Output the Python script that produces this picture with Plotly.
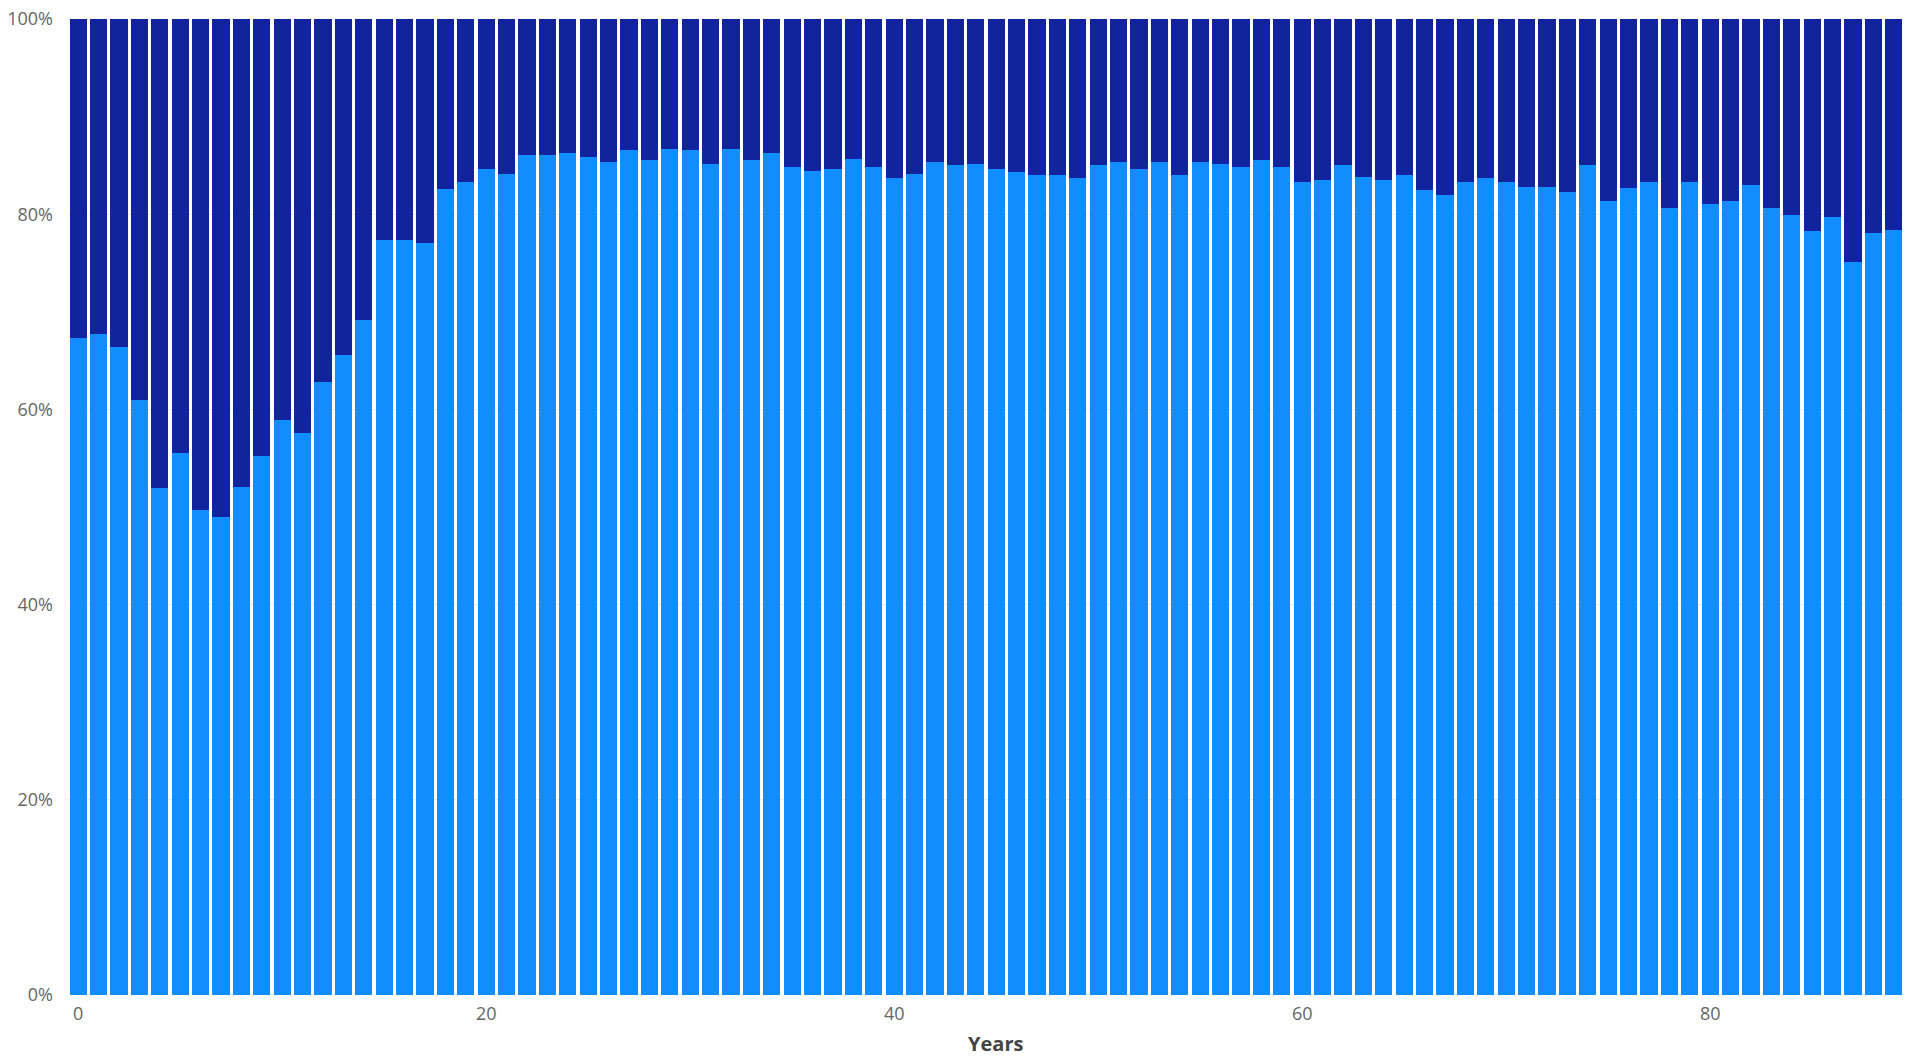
import plotly.graph_objects as go

# Years on the x axis
years = list(range(90))

# Share (%) of the light-blue series for each year
light_share = [
    67.3, 67.7, 66.4, 61.0, 51.9, 55.5, 49.7, 49.0, 52.0, 55.2,
    58.9, 57.6, 62.8, 65.6, 69.2, 77.4, 77.4, 77.1, 82.6, 83.3,
    84.6, 84.1, 86.1, 86.1, 86.3, 85.9, 85.4, 86.6, 85.6, 86.7,
    86.6, 85.1, 86.7, 85.6, 86.3, 84.8, 84.4, 84.6, 85.7, 84.8,
    83.7, 84.1, 85.3, 85.0, 85.1, 84.6, 84.3, 84.0, 84.0, 83.7,
    85.0, 85.4, 84.6, 85.3, 84.0, 85.3, 85.1, 84.8, 85.6, 84.8,
    83.3, 83.5, 85.0, 83.8, 83.5, 84.0, 82.5, 82.0, 83.3, 83.7,
    83.3, 82.8, 82.8, 82.3, 85.0, 81.4, 82.7, 83.3, 80.6, 83.3,
    81.0, 81.4, 83.0, 80.6, 79.9, 78.3, 79.7, 75.1, 78.1, 78.4,
]
# Share (%) of the dark-navy series (the remainder of each 100% bar)
dark_share = [round(100 - v, 1) for v in light_share]

y_ticks = [0, 20, 40, 60, 80, 100]
x_ticks = [0, 20, 40, 60, 80]
x_title = "Years"

LIGHT = "#118DFF"
DARK = "#12239E"
FONT = "Segoe UI, Open Sans, sans-serif"

fig = go.Figure()
fig.add_trace(go.Bar(x=years, y=light_share, marker_color=LIGHT, marker_line_width=0,
                     name="Series 1", showlegend=False))
fig.add_trace(go.Bar(x=years, y=dark_share, marker_color=DARK, marker_line_width=0,
                     name="Series 2", showlegend=False))

fig.update_layout(
    width=1905, height=1056,
    barmode="stack",
    bargap=0.15,
    margin=dict(l=68, r=1, t=19, b=61),
    paper_bgcolor="white",
    plot_bgcolor="white",
    font=dict(family=FONT, size=18, color="#666666"),
    xaxis=dict(
        range=[-0.5, 89.5],
        tickmode="array", tickvals=x_ticks, ticktext=[str(t) for t in x_ticks],
        showgrid=False, zeroline=False, showline=False,
        ticks="", ticklabelstandoff=6,
        tickfont=dict(size=18, color="#666666"),
    ),
    yaxis=dict(
        range=[0, 100],
        tickmode="array", tickvals=y_ticks, ticktext=[f"{t}%" for t in y_ticks],
        showgrid=True, gridcolor="#EAEAEA", gridwidth=1,
        zeroline=False, showline=False,
        ticks="", ticklabelstandoff=14,
        tickfont=dict(size=18, color="#666666"),
    ),
    annotations=[dict(
        text=f"<b>{x_title}</b>", xref="paper", yref="paper",
        x=0.5054, y=-0.0502, xanchor="center", yanchor="middle",
        showarrow=False,
        font=dict(family="Open Sans, sans-serif", size=20, color="#444444"),
    )],
)

fig.write_html("out.html", config={"displayModeBar": False},
               post_script="document.body.style.margin='0';")
